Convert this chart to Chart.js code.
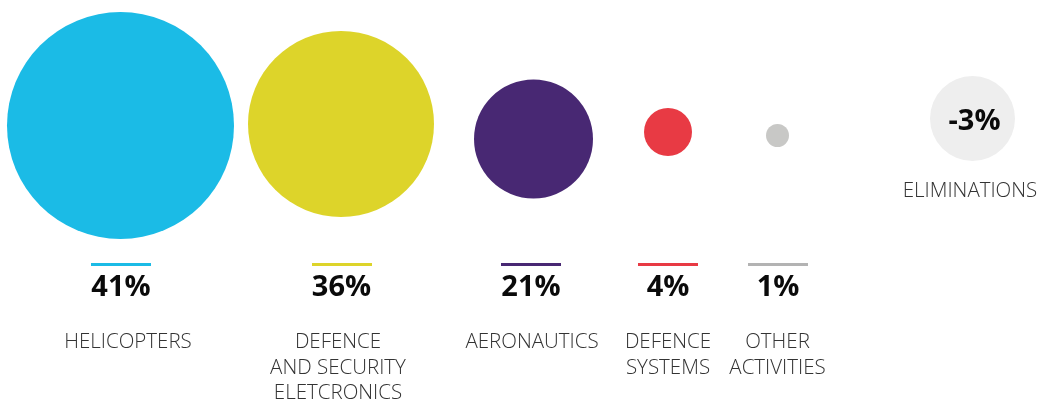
<!DOCTYPE html>
<html>
<head>
<meta charset="utf-8">
<script src="https://cdn.jsdelivr.net/npm/chart.js@4/dist/chart.umd.min.js"></script>
<style>
    html, body { margin: 0; padding: 0; background: #ffffff; }
    #wrap { width: 1047px; height: 405px; position: relative; }
</style>
</head>
<body>
<div id="wrap"><canvas id="revenue-chart"></canvas></div>
<script>
// revenue share by segment, in percent
const segments = ['HELICOPTERS', 'DEFENCE\nAND SECURITY\nELETCRONICS', 'AERONAUTICS', 'DEFENCE\nSYSTEMS', 'OTHER\nACTIVITIES'];
const shares = [41, 36, 21, 4, 1];
const eliminationLabel = 'ELIMINATIONS';
const eliminationShare = -3;

// look of each segment
const fillColors = ['#1bbbe6', '#ddd42a', '#482873', '#e83a44', '#c8c8c6'];
const barColors = ['#1bbbe6', '#ddd42a', '#482873', '#e83a44', '#b3b3b3'];

// where each circle sits and how big it is (canvas pixels)
const bubbleX = [120.5, 341, 533.5, 668, 777.5];
const bubbleY = [125.5, 124, 139, 132, 135.5];
const bubbleR = [113.5, 93, 59.5, 24, 11.5];
const valueX = [121, 341.5, 531, 668, 778];
const nameX = [128, 338, 532, 668, 777.5];
const elimPos = { x: 972.5, y: 118.5, r: 42.5 };

const labelFont = '300 20.5px "Open Sans", Lato, sans-serif';
const valueFont = 'bold 29px "Open Sans", Lato, sans-serif';

const segmentLabels = {
    id: 'segmentLabels',
    afterDatasetsDraw(chart) {
        const ctx = chart.ctx;
        const meta = chart.getDatasetMeta(0);
        ctx.save();
        ctx.textAlign = 'center';
        ctx.textBaseline = 'alphabetic';
        meta.data.forEach((pt, i) => {
            const x = valueX[i];
            ctx.fillStyle = barColors[i];
            ctx.fillRect(Math.round(x - 30), 263, 60, 3);

            ctx.font = valueFont;
            ctx.fillStyle = '#0a0a0a';
            ctx.fillText(shares[i] + '%', x, 296);

            ctx.font = labelFont;
            ctx.fillStyle = '#333333';
            segments[i].split('\n').forEach((line, j) => {
                ctx.fillText(line, nameX[i], 348 + j * 25.5);
            });
        });

        const el = chart.getDatasetMeta(1).data[0];
        ctx.font = valueFont;
        ctx.fillStyle = '#0a0a0a';
        ctx.fillText(eliminationShare + '%', el.x + 2, 130);
        ctx.font = labelFont;
        ctx.fillStyle = '#333333';
        ctx.fillText(eliminationLabel, 970, 197);
        ctx.restore();
    }
};

new Chart(document.getElementById('revenue-chart'), {
    type: 'bubble',
    data: {
        datasets: [{
            data: shares.map((v, i) => ({ x: bubbleX[i], y: bubbleY[i], r: bubbleR[i] })),
            backgroundColor: fillColors,
            borderWidth: 0,
            hoverBorderWidth: 0,
            clip: false
        }, {
            data: [{ x: elimPos.x, y: elimPos.y, r: elimPos.r }],
            backgroundColor: '#eeeeee',
            borderWidth: 0,
            hoverBorderWidth: 0,
            clip: false
        }]
    },
    options: {
        responsive: true,
        maintainAspectRatio: false,
        animation: false,
        layout: { padding: 0, autoPadding: false },
        events: [],
        plugins: {
            legend: { display: false },
            tooltip: { enabled: false }
        },
        scales: {
            x: { type: 'linear', min: 0, max: 1047, display: false },
            y: { type: 'linear', min: 0, max: 405, reverse: true, display: false }
        }
    },
    plugins: [segmentLabels]
});
</script>
</body>
</html>
